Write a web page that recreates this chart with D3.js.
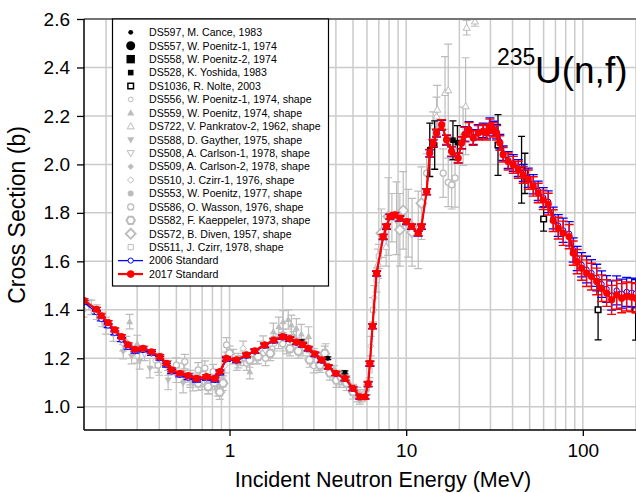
<!DOCTYPE html>
<html>
<head>
<meta charset="utf-8">
<script src="https://cdn.jsdelivr.net/npm/d3@7"></script>
<style>
    body { margin: 0; background: #fff; }
    text { font-family: "Liberation Sans", Arial, sans-serif; fill: #000; }
</style>
</head>
<body>
<svg id="chart" width="636" height="493"></svg>
<script>
// ---- data: [energy (MeV), cross section (b), uncertainty (b)] ----
const std2017 = [
    [0.15,1.438,0.008],[0.1766,1.402,0.008],[0.188,1.375,0.008],[0.2055,1.347,0.008],[0.224,1.317,0.008],
    [0.2446,1.289,0.008],[0.2666,1.255,0.008],[0.291,1.237,0.008],[0.324,1.241,0.008],[0.3616,1.227,0.008],
    [0.403,1.207,0.008],[0.44,1.179,0.008],[0.47,1.152,0.008],[0.523,1.138,0.008],[0.583,1.128,0.008],
    [0.65,1.117,0.008],[0.741,1.124,0.008],[0.826,1.117,0.008],[0.881,1.145,0.008],[0.96,1.2,0.008],
    [1.095,1.193,0.008],[1.248,1.214,0.008],[1.39,1.231,0.008],[1.58,1.255,0.008],[1.78,1.275,0.008],
    [2.0,1.289,0.008],[2.19,1.281,0.008],[2.39,1.267,0.008],[2.59,1.257,0.008],[2.79,1.241,0.008],
    [3.04,1.218,0.008],[3.32,1.193,0.008],[3.62,1.165,0.008],[4.0,1.138,0.008],[4.5,1.117,0.008],
    [5.0,1.076,0.008],[5.47,1.041,0.008],[5.84,1.041,0.008],[6.09,1.094,0.01],[6.23,1.179,0.01],
    [6.45,1.333,0.01],[6.8,1.551,0.01],[7.41,1.702,0.01],[7.74,1.744,0.01],[8.09,1.785,0.01],
    [8.63,1.792,0.01],[9.21,1.778,0.01],[10.05,1.764,0.01],[10.73,1.744,0.01],[11.7,1.716,0.01],
    [12.2,1.744,0.01],[13.05,1.888,0.012],[13.6,2.047,0.015],[14.2,2.088,0.015],[14.86,2.13,0.015],
    [15.87,2.164,0.02],[16.93,2.102,0.02],[18.07,2.054,0.02],[19.7,2.026,0.02],[20.6,2.088,0.025],
    [21.5,2.123,0.03],[22.7,2.143,0.03],[23.96,2.109,0.03],[25.6,2.13,0.03],[27.3,2.136,0.03],
    [28.5,2.13,0.03],[29.8,2.157,0.03],[31.1,2.143,0.03],[32.5,2.13,0.03],[33.9,2.088,0.03],
    [35.4,2.04,0.03],[37.8,2.012,0.035],[40.4,1.998,0.035],[43.1,1.978,0.035],[46.0,1.957,0.035],
    [49.1,1.937,0.04],[52.4,1.909,0.04],[55.9,1.882,0.04],[59.7,1.854,0.04],[63.7,1.836,0.045],
    [68.0,1.768,0.045],[72.6,1.737,0.045],[77.4,1.716,0.05],[83.7,1.702,0.05],[88.2,1.634,0.05],
    [92.9,1.599,0.05],[98.4,1.572,0.05],[105,1.551,0.055],[112,1.537,0.055],[119.8,1.517,0.055],
    [127.8,1.489,0.055],[136.4,1.469,0.055],[145.6,1.441,0.06],[155.4,1.462,0.06],[166,1.448,0.06],
    [177,1.455,0.06],[189,1.452,0.06],[200,1.448,0.06]
];

const std2006 = [
    [0.15,1.43,0.008],[0.1766,1.39,0.008],[0.188,1.362,0.008],[0.2055,1.335,0.008],[0.224,1.305,0.008],
    [0.2446,1.277,0.008],[0.2666,1.246,0.008],[0.291,1.229,0.008],[0.324,1.234,0.008],[0.3616,1.22,0.008],
    [0.403,1.2,0.008],[0.44,1.172,0.008],[0.47,1.145,0.008],[0.523,1.131,0.008],[0.583,1.12,0.008],
    [0.65,1.11,0.008],[0.741,1.117,0.008],[0.826,1.11,0.008],[0.881,1.14,0.008],[0.96,1.195,0.008],
    [1.095,1.19,0.008],[1.248,1.21,0.008],[1.39,1.228,0.008],[1.58,1.252,0.008],[1.78,1.272,0.008],
    [2.0,1.286,0.008],[2.19,1.278,0.008],[2.39,1.264,0.008],[2.59,1.254,0.008],[2.79,1.238,0.008],
    [3.04,1.215,0.008],[3.32,1.19,0.008],[3.62,1.163,0.008],[4.0,1.136,0.008],[4.5,1.115,0.008],
    [5.0,1.074,0.008],[5.47,1.04,0.008],[5.84,1.04,0.008],[6.09,1.092,0.01],[6.23,1.177,0.01],
    [6.45,1.331,0.01],[6.8,1.549,0.01],[7.41,1.7,0.01],[7.74,1.742,0.01],[8.09,1.784,0.01],
    [8.63,1.79,0.01],[9.21,1.776,0.01],[10.05,1.762,0.01],[10.73,1.742,0.01],[11.7,1.714,0.01],
    [12.2,1.742,0.01],[13.05,1.886,0.012],[13.6,2.045,0.015],[14.2,2.086,0.015],[14.86,2.128,0.015],
    [15.87,2.162,0.02],[16.93,2.1,0.02],[18.07,2.052,0.02],[19.7,2.026,0.02],[20.6,2.09,0.025],
    [21.5,2.126,0.03],[22.7,2.146,0.03],[23.96,2.113,0.03],[25.6,2.134,0.03],[27.3,2.14,0.03],
    [28.5,2.135,0.03],[29.8,2.162,0.03],[31.1,2.148,0.03],[32.5,2.135,0.03],[33.9,2.094,0.03],
    [35.4,2.046,0.03],[37.8,2.018,0.035],[40.4,2.005,0.035],[43.1,1.985,0.035],[46.0,1.965,0.035],
    [49.1,1.945,0.04],[52.4,1.918,0.04],[55.9,1.891,0.04],[59.7,1.864,0.04],[63.7,1.846,0.045],
    [68.0,1.779,0.045],[72.6,1.748,0.045],[77.4,1.728,0.05],[83.7,1.714,0.05],[88.2,1.647,0.05],
    [92.9,1.612,0.05],[98.4,1.586,0.05],[105,1.566,0.055],[112,1.552,0.055],[119.8,1.533,0.055],
    [127.8,1.506,0.055],[136.4,1.486,0.055],[145.6,1.459,0.06],[155.4,1.48,0.06],[166,1.467,0.06],
    [177,1.474,0.06],[189,1.471,0.06],[200,1.468,0.06]
];

// absolute measurements (black)
const ds597 = [[2.55,1.27,0.006],[3.6,1.2,0.006],[4.5,1.142,0.006]];
const ds557 = [];
const ds558 = [];
const ds528 = [[13.6,2.06,0.11],[14.5,2.08,0.1],[18.4,2.10,0.08],[19.5,2.09,0.07]];
const ds1036 = [[33.1,2.08,0.125],[45,1.978,0.138],[47,1.963,0.083],[60,1.775,0.05],[122,1.40,0.124],[199,1.40,0.125]];

// shape measurements (gray)
const ds556 = [[0.149,1.40,0.03],[0.165,1.41,0.03],[0.177,1.39,0.03],[0.22,1.30,0.03],[0.25,1.26,0.03],
    [0.30,1.21,0.03],[0.38,1.19,0.03],[0.45,1.16,0.03],[0.6,1.11,0.03],[0.7,1.10,0.03],[0.9,1.09,0.03],
    [1.2,1.20,0.03],[1.5,1.24,0.03],[1.8,1.26,0.03],[2.5,1.25,0.03],[3.2,1.18,0.03],[4.2,1.11,0.03],[5.3,1.05,0.03]];
const ds559 = [[0.272,1.351,0.03],[0.3,1.26,0.035],[0.55,1.14,0.04],[1.303,1.145,0.03],[1.77,1.31,0.035],
    [1.9,1.33,0.04],[2.01,1.351,0.045],[2.15,1.36,0.04],[2.24,1.338,0.04],[2.39,1.324,0.04],[2.55,1.30,0.04],
    [2.8,1.29,0.04],[3.5,1.22,0.04]];
const ds722 = [[6.93,1.59,0.06],[7.7,1.66,0.08],[8.3,1.78,0.1],[14.2,2.157,0.06],[14.86,2.198,0.08],[15.0,2.226,0.1],
    [16.6,2.295,0.15],[17.3,2.306,0.19],[21.7,2.24,0.2],[22.0,2.564,0.03],[24.5,2.59,0.02]];
const ds588 = [[0.2,1.33,0.03],[0.25,1.227,0.03],[0.279,1.207,0.03],[0.31,1.19,0.035],[0.354,1.159,0.04],
    [0.4,1.17,0.04],[0.449,1.11,0.04],[0.546,1.097,0.04],[0.62,1.10,0.035],[1.1,1.18,0.03]];
const ds508 = [[0.19,1.36,0.03],[0.33,1.22,0.03],[0.5,1.13,0.03],[0.76,1.083,0.03],[1.6,1.23,0.03]];
const ds509 = [[0.16,1.42,0.02],[0.2,1.35,0.02],[0.26,1.27,0.02],[0.4,1.20,0.02],[0.56,1.13,0.02],[0.85,1.13,0.02]];
const ds510 = [[0.94,1.17,0.03],[1.05,1.207,0.03],[1.194,1.241,0.03],[1.42,1.207,0.03],[1.55,1.262,0.03],
    [1.9,1.27,0.03],[2.1,1.248,0.03],[2.6,1.24,0.03],[3.0,1.21,0.03],[6.3,1.25,0.04],[6.6,1.45,0.05]];
const ds553 = [[2.0,1.30,0.02],[2.3,1.29,0.02],[2.7,1.26,0.02],[3.3,1.20,0.02],[3.9,1.15,0.02],[4.6,1.10,0.02],
    [5.2,1.06,0.02],[5.6,1.04,0.02],[6.0,1.07,0.02]];
const ds586 = [[0.394,1.172,0.03],[0.5,1.172,0.03],[0.558,1.186,0.03],[0.664,1.152,0.03],[0.725,1.159,0.03],
    [0.808,1.145,0.03],[0.862,1.069,0.025],[0.962,1.255,0.03],[1.25,1.18,0.03],[1.6,1.2,0.03],[2.0,1.26,0.03],
    [3.0,1.17,0.03],[13.05,1.964,0.08],[16.2,1.964,0.1],[17.3,1.926,0.1],[18.1,1.916,0.1],[18.9,1.944,0.12],
    [21.0,2.116,0.12]];
const ds582 = [[0.6,1.12,0.03],[0.664,1.097,0.03],[0.71,1.13,0.03],[0.757,1.083,0.03],[0.82,1.10,0.03],
    [0.88,1.06,0.03],[0.92,1.097,0.03],[1.0,1.22,0.03],[1.12,1.19,0.03],[1.3,1.193,0.03],[1.45,1.207,0.03],
    [1.7,1.22,0.03],[2.2,1.24,0.03],[2.45,1.23,0.03],[2.84,1.193,0.03],[3.25,1.172,0.03],[3.46,1.22,0.03],
    [3.7,1.14,0.03],[4.03,1.11,0.03],[4.3,1.12,0.03],[4.6,1.097,0.03],[5.0,1.062,0.03],[5.47,1.041,0.03]];
const ds572 = [[7.24,1.716,0.1],[7.92,1.785,0.16],[8.82,1.778,0.15],[9.21,1.73,0.15],[9.62,1.81,0.16],
    [10.27,1.757,0.14],[10.8,1.72,0.14],[11.7,1.73,0.16],[12.2,1.84,0.15]];
const ds511 = [[5.8,1.05,0.02],[6.2,1.15,0.03],[6.5,1.40,0.05],[6.8,1.523,0.05],[7.0,1.62,0.05]];

const legendLabels = [
    "DS597, M. Cance, 1983", "DS557, W. Poenitz-1, 1974", "DS558, W. Poenitz-2, 1974",
    "DS528, K. Yoshida, 1983", "DS1036, R. Nolte, 2003", "DS556, W. Poenitz-1, 1974, shape",
    "DS559, W. Poenitz, 1974, shape", "DS722, V. Pankratov-2, 1962, shape", "DS588, D. Gayther, 1975, shape",
    "DS508, A. Carlson-1, 1978, shape", "DS509, A. Carlson-2, 1978, shape", "DS510, J. Czirr-1, 1976, shape",
    "DS553, W. Poenitz, 1977, shape", "DS586, O. Wasson, 1976, shape", "DS582, F. Kaeppeler, 1973, shape",
    "DS572, B. Diven, 1957, shape", "DS511, J. Czirr, 1978, shape", "2006 Standard", "2017 Standard"
];
const yTicks = [1.0, 1.2, 1.4, 1.6, 1.8, 2.0, 2.2, 2.4, 2.6];
const xTicks = [1, 10, 100];
const xGrid = [0.2,0.3,0.4,0.5,0.6,0.7,0.8,0.9,1,2,3,4,5,6,7,8,9,10,20,30,40,50,60,70,80,90,100,200];

// ---- layout ----
const width = 636, height = 493;
const margin = { left: 84, top: 19, right: 0, bottom: 63 };
const gray = "#bcbcbc";

const xScale = d3.scaleLog().domain([0.15, 200]).range([margin.left, width - margin.right]);
const yScale = d3.scaleLinear().domain([0.904, 2.6]).range([height - margin.bottom, margin.top]);

// marker styles, in the same order as the legend
const series = [
    { data: ds597, shape: "circle", r: 2.4, fill: "#000", stroke: "none", bar: "#000" },
    { data: ds557, shape: "circle", r: 4.5, fill: "#000", stroke: "none", bar: "#000" },
    { data: ds558, shape: "square", r: 4.2, fill: "#000", stroke: "none", bar: "#000" },
    { data: ds528, shape: "square", r: 2.8, fill: "#000", stroke: "none", bar: "#000" },
    { data: ds1036, shape: "square", r: 2.8, fill: "#fff", stroke: "#000", sw: 1.5, bar: "#000" },
    { data: ds556, shape: "circle", r: 2.4, fill: "#fff", stroke: gray, sw: 1, bar: gray },
    { data: ds559, shape: "triUp", r: 3.2, fill: gray, stroke: "none", bar: gray },
    { data: ds722, shape: "triUp", r: 3.2, fill: "#fff", stroke: gray, sw: 1, bar: gray },
    { data: ds588, shape: "triDown", r: 3.2, fill: gray, stroke: "none", bar: gray },
    { data: ds508, shape: "triDown", r: 3.2, fill: "#fff", stroke: gray, sw: 1, bar: gray },
    { data: ds509, shape: "diamond", r: 3.2, fill: gray, stroke: "none", bar: gray },
    { data: ds510, shape: "diamond", r: 3.2, fill: "#fff", stroke: gray, sw: 1, bar: gray },
    { data: ds553, shape: "circle", r: 3, fill: gray, stroke: "none", bar: gray },
    { data: ds586, shape: "circle", r: 3, fill: "#fff", stroke: gray, sw: 1.3, bar: gray },
    { data: ds582, shape: "hexagon", r: 4.2, fill: "#fff", stroke: gray, sw: 2, bar: gray },
    { data: ds572, shape: "diamond", r: 5, fill: "#fff", stroke: gray, sw: 1.8, bar: gray },
    { data: ds511, shape: "square", r: 2.6, fill: "#fff", stroke: gray, sw: 1, bar: gray }
];

function markerPath(shape, r) {
    let pts;
    if (shape === "circle") {
        return "M" + (-r) + ",0A" + r + "," + r + " 0 1,0 " + r + ",0A" + r + "," + r + " 0 1,0 " + (-r) + ",0Z";
    } else if (shape === "square") {
        pts = [[-r, -r], [r, -r], [r, r], [-r, r]];
    } else if (shape === "triUp") {
        pts = [[0, -r * 1.15], [r * 1.1, r * 0.8], [-r * 1.1, r * 0.8]];
    } else if (shape === "triDown") {
        pts = [[0, r * 1.15], [r * 1.1, -r * 0.8], [-r * 1.1, -r * 0.8]];
    } else if (shape === "diamond") {
        pts = [[0, -r], [r, 0], [0, r], [-r, 0]];
    } else {
        pts = d3.range(6).map(i => [r * Math.cos(Math.PI / 3 * i), r * Math.sin(Math.PI / 3 * i)]);
    }
    return "M" + pts.map(p => p.join(",")).join("L") + "Z";
}

const svg = d3.select("#chart");

svg.append("defs").append("clipPath").attr("id", "plotClip")
    .append("rect")
    .attr("x", margin.left).attr("y", margin.top)
    .attr("width", width - margin.left - margin.right)
    .attr("height", height - margin.top - margin.bottom);

// grid lines
const gridG = svg.append("g").attr("stroke", "#cbcbcb").attr("stroke-width", 1.5);
gridG.selectAll("line.v").data(xGrid).enter().append("line")
    .attr("x1", d => xScale(d)).attr("x2", d => xScale(d))
    .attr("y1", margin.top).attr("y2", height - margin.bottom);
gridG.selectAll("line.h").data(yTicks).enter().append("line")
    .attr("x1", margin.left).attr("x2", width - margin.right)
    .attr("y1", d => yScale(d)).attr("y2", d => yScale(d));

const plotG = svg.append("g").attr("clip-path", "url(#plotClip)");

// error bars with caps
function drawErrors(g, data, color, cap, sw) {
    const eg = g.append("g").attr("stroke", color).attr("stroke-width", sw).attr("fill", "none");
    eg.selectAll("path").data(data).enter().append("path")
        .attr("d", d => {
            const x = xScale(d[0]), y1 = yScale(d[1] + d[2]), y2 = yScale(d[1] - d[2]);
            return "M" + (x - cap) + "," + y1 + "H" + (x + cap) +
                "M" + x + "," + y1 + "V" + y2 +
                "M" + (x - cap) + "," + y2 + "H" + (x + cap);
        });
}

function drawMarkers(g, s) {
    g.append("g").selectAll("path").data(s.data).enter().append("path")
        .attr("transform", d => "translate(" + xScale(d[0]) + "," + yScale(d[1]) + ")")
        .attr("d", markerPath(s.shape, s.r))
        .attr("fill", s.fill)
        .attr("stroke", s.stroke)
        .attr("stroke-width", s.sw || 0);
}

// gray shape data first, black on top
const graySeries = series.slice(5), blackSeries = series.slice(0, 5);
graySeries.forEach(s => drawErrors(plotG, s.data, s.bar, 4, 1.2));
graySeries.forEach(s => drawMarkers(plotG, s));
blackSeries.forEach(s => drawErrors(plotG, s.data, s.bar, 3.5, 1.3));
blackSeries.forEach(s => drawMarkers(plotG, s));

// standards
const line = d3.line().x(d => xScale(d[0])).y(d => yScale(d[1]));

drawErrors(plotG, std2006, "#0000ff", 4.5, 1.3);
plotG.append("path").datum(std2006).attr("d", line)
    .attr("fill", "none").attr("stroke", "#0000ff").attr("stroke-width", 1.3);
plotG.append("g").selectAll("circle").data(std2006).enter().append("circle")
    .attr("cx", d => xScale(d[0])).attr("cy", d => yScale(d[1])).attr("r", 2.6)
    .attr("fill", "#fff").attr("stroke", "#0000ff").attr("stroke-width", 1);

drawErrors(plotG, std2017, "#ff0000", 4.5, 1.4);
plotG.append("path").datum(std2017).attr("d", line)
    .attr("fill", "none").attr("stroke", "#ff0000").attr("stroke-width", 2.2);
plotG.append("g").selectAll("circle").data(std2017).enter().append("circle")
    .attr("cx", d => xScale(d[0])).attr("cy", d => yScale(d[1])).attr("r", 3.6)
    .attr("fill", "#ff0000");

// frame: top border, left and bottom axes
svg.append("line")
    .attr("x1", margin.left).attr("x2", width).attr("y1", margin.top).attr("y2", margin.top)
    .attr("stroke", "#555").attr("stroke-width", 1.5);

const yAxis = d3.axisLeft(yScale).tickValues(yTicks).tickFormat(d3.format(".1f")).tickSize(7).tickPadding(7);
const yAxisG = svg.append("g").attr("transform", "translate(" + margin.left + ",0)").call(yAxis);
yAxisG.select(".domain").attr("d", "M0," + margin.top + "V" + (height - margin.bottom)).attr("stroke-width", 1.5);
yAxisG.selectAll(".tick line").attr("stroke-width", 1.3);
yAxisG.selectAll("text").attr("font-size", 19).attr("font-family", "Liberation Sans, Arial, sans-serif");

const xAxis = d3.axisBottom(xScale).tickValues(xTicks).tickFormat(d3.format("d")).tickSize(6).tickPadding(8);
const xAxisG = svg.append("g").attr("transform", "translate(0," + (height - margin.bottom) + ")").call(xAxis);
xAxisG.select(".domain").attr("d", "M" + margin.left + ",0H" + width).attr("stroke-width", 1.5);
xAxisG.selectAll(".tick line").attr("stroke-width", 1.3);
xAxisG.selectAll("text").attr("font-size", 19).attr("font-family", "Liberation Sans, Arial, sans-serif");

// axis titles
svg.append("text")
    .attr("x", 383).attr("y", 487)
    .attr("text-anchor", "middle").attr("font-size", 21.5)
    .text("Incident Neutron Energy (MeV)");

svg.append("text")
    .attr("transform", "translate(25,215) rotate(-90)")
    .attr("text-anchor", "middle").attr("font-size", 23)
    .text("Cross Section (b)");

// reaction label
svg.append("text").attr("x", 497).attr("y", 65).attr("font-size", 23).text("235");
svg.append("text").attr("x", 535).attr("y", 83).attr("font-size", 37).text("U(n,f)");

// legend
const legendG = svg.append("g");
legendG.append("rect")
    .attr("x", 112.5).attr("y", margin.top).attr("width", 216).attr("height", 267)
    .attr("fill", "#fff").attr("stroke", "#000").attr("stroke-width", 1.2);

const rowY = i => 32.3 + i * 13.43;
const symX = 130.7;

legendG.selectAll("text").data(legendLabels).enter().append("text")
    .attr("x", 149).attr("y", (d, i) => rowY(i)).attr("dy", "0.36em")
    .attr("font-size", 10.6)
    .text(d => d);

series.forEach((s, i) => {
    legendG.append("path")
        .attr("transform", "translate(" + symX + "," + rowY(i) + ")")
        .attr("d", markerPath(s.shape, s.r))
        .attr("fill", s.fill).attr("stroke", s.stroke).attr("stroke-width", s.sw || 0);
});

// standard entries: line + marker
[["#0000ff", 1.3, "#fff", 2.6], ["#ff0000", 2.2, "#ff0000", 3.4]].forEach((c, k) => {
    const yy = rowY(17 + k);
    legendG.append("line").attr("x1", 118).attr("x2", 143).attr("y1", yy).attr("y2", yy)
        .attr("stroke", c[0]).attr("stroke-width", c[1]);
    legendG.append("circle").attr("cx", symX).attr("cy", yy).attr("r", c[3])
        .attr("fill", c[2]).attr("stroke", c[0]).attr("stroke-width", 1);
});
</script>
</body>
</html>
